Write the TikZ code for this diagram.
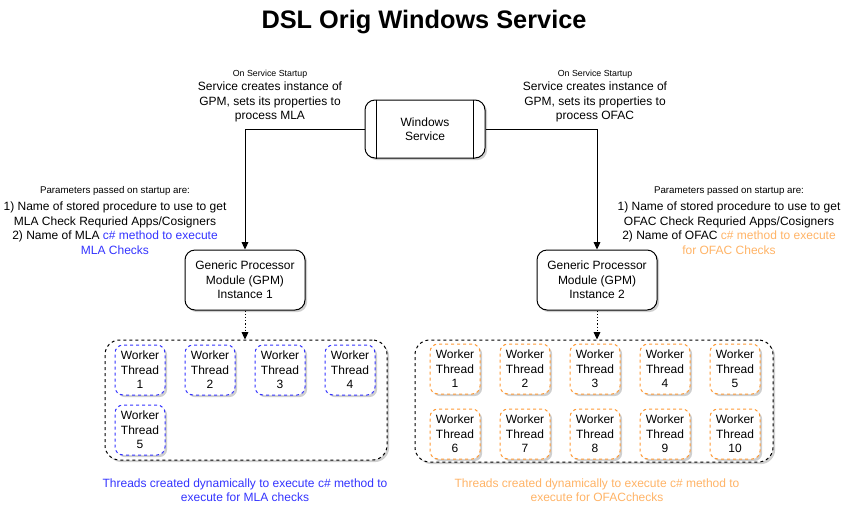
\documentclass[tikz,border=0pt]{standalone}
\usepackage{fontspec}
\setmainfont{Liberation Sans}
\usetikzlibrary{shadows,arrows.meta}
\definecolor{mlablue}{RGB}{51,51,255}
\definecolor{ofactext}{RGB}{255,179,102}
\definecolor{ofacline}{RGB}{255,153,51}
\definecolor{shadowgray}{RGB}{120,120,120}
\tikzset{
  px/.style={x=0.75pt,y=-0.75pt},
  shad/.style={drop shadow={shadow xshift=1.6pt,shadow yshift=-1.6pt,fill=shadowgray,opacity=0.35}},
  mainfont/.style={font=\fontsize{9}{10.9}\selectfont},
  smallfont/.style={font=\fontsize{6.6}{8}\selectfont},
  parfont/.style={font=\fontsize{7.3}{8.5}\selectfont},
  txt/.style={inner sep=0pt,align=center,mainfont},
  procbox/.style={draw,line width=0.75pt,rounded corners=7.5pt,fill=white,shad,align=center,mainfont,minimum width=90pt,minimum height=43.5pt,inner sep=0pt},
  gpmbox/.style={draw,line width=0.75pt,rounded corners=7.5pt,fill=white,shad,align=center,mainfont,minimum width=90pt,minimum height=45pt,inner sep=0pt},
  container/.style={draw,line width=0.75pt,dash pattern=on 2.25pt off 2.25pt,rounded corners=11pt,fill=white,shad,inner sep=0pt},
  worker/.style={draw,line width=0.75pt,dash pattern=on 2.25pt off 2.25pt,rounded corners=6pt,fill=white,shad,align=center,mainfont,minimum width=37.5pt,minimum height=37.5pt,inner sep=0pt},
  mlaworker/.style={worker,draw=mlablue},
  ofacworker/.style={worker,draw=ofacline},
  conn/.style={line width=0.75pt,-{Triangle[length=5.5pt,width=5pt]}},
  dotconn/.style={line width=0.75pt,dash pattern=on 0.9pt off 1.5pt,-{Triangle[length=5.5pt,width=5pt]}},
}
\begin{document}
\begin{tikzpicture}[px]
\useasboundingbox (0,0) rectangle (848,504);
\node[inner sep=0pt,font=\fontsize{19}{22}\selectfont\bfseries] (title) at (424,22) {DSL Orig Windows Service};

% Windows Service
\node[procbox] (ws) at (425,129) {Windows\\Service};
\draw[line width=0.75pt] ([xshift=9pt]ws.north west) -- ([xshift=9pt]ws.south west);
\draw[line width=0.75pt] ([xshift=-9pt]ws.north east) -- ([xshift=-9pt]ws.south east);

% GPM
\node[gpmbox] (gpm1) at (245,280) {Generic Processor\\Module (GPM)\\Instance 1};
\node[gpmbox] (gpm2) at (597,280) {Generic Processor\\Module (GPM)\\Instance 2};

\draw[conn] (ws.west) -| (gpm1.north);
\draw[conn] (ws.east) -| (gpm2.north);

% top labels
\node[txt,smallfont] (startL) at (270,74) {On Service Startup};
\node[txt] (svcL) at (270,102) {Service creates instance of\\GPM, sets its properties to\\process MLA};
\node[txt,smallfont] (startR) at (595,74) {On Service Startup};
\node[txt] (svcR) at (595,102) {Service creates instance of\\GPM, sets its properties to\\process OFAC};

% parameter labels
\node[txt,parfont] (parL) at (115,191) {Parameters passed on startup are:};
\node[txt] (parLt) at (115,228) {1) Name of stored procedure to use to get\\MLA Check Requried Apps/Cosigners\\2) Name of MLA \textcolor{mlablue}{c\# method to execute}\\\textcolor{mlablue}{MLA Checks}};
\node[txt,parfont] (parR) at (729,191) {Parameters passed on startup are:};
\node[txt] (parRt) at (729,228) {1) Name of stored procedure to use to get\\OFAC Check Requried Apps/Cosigners\\2) Name of OFAC \textcolor{ofactext}{c\# method to execute}\\\textcolor{ofactext}{for OFAC Checks}};

% containers
\node[container,minimum width=211.5pt,minimum height=90pt] (c1) at (246,400) {};
\node[container,minimum width=268.5pt,minimum height=91.5pt] (c2) at (594,401) {};

\draw[dotconn] (gpm1.south) -- (gpm1.south |- c1.north);
\draw[dotconn] (gpm2.south) -- (gpm2.south |- c2.north);

% MLA workers
\node[mlaworker] (m1) at (140,370) {Worker\\Thread\\1};
\node[mlaworker] (m2) at (210,370) {Worker\\Thread\\2};
\node[mlaworker] (m3) at (280,370) {Worker\\Thread\\3};
\node[mlaworker] (m4) at (350,370) {Worker\\Thread\\4};
\node[mlaworker] (m5) at (140,430) {Worker\\Thread\\5};

% OFAC workers
\node[ofacworker] (o1) at (455,369) {Worker\\Thread\\1};
\node[ofacworker] (o2) at (525,369) {Worker\\Thread\\2};
\node[ofacworker] (o3) at (595,369) {Worker\\Thread\\3};
\node[ofacworker] (o4) at (665,369) {Worker\\Thread\\4};
\node[ofacworker] (o5) at (735,369) {Worker\\Thread\\5};
\node[ofacworker] (o6) at (455,434) {Worker\\Thread\\6};
\node[ofacworker] (o7) at (525,434) {Worker\\Thread\\7};
\node[ofacworker] (o8) at (595,434) {Worker\\Thread\\8};
\node[ofacworker] (o9) at (665,434) {Worker\\Thread\\9};
\node[ofacworker] (o10) at (735,434) {Worker\\Thread\\10};

% bottom labels
\node[txt,text=mlablue,font=\fontsize{9}{10.5}\selectfont] (botL) at (245,490) {Threads created dynamically to execute c\# method to\\execute for MLA checks};
\node[txt,text=ofactext,font=\fontsize{9}{10.5}\selectfont] (botR) at (597,490) {Threads created dynamically to execute c\# method to\\execute for OFACchecks};
\end{tikzpicture}
\end{document}
